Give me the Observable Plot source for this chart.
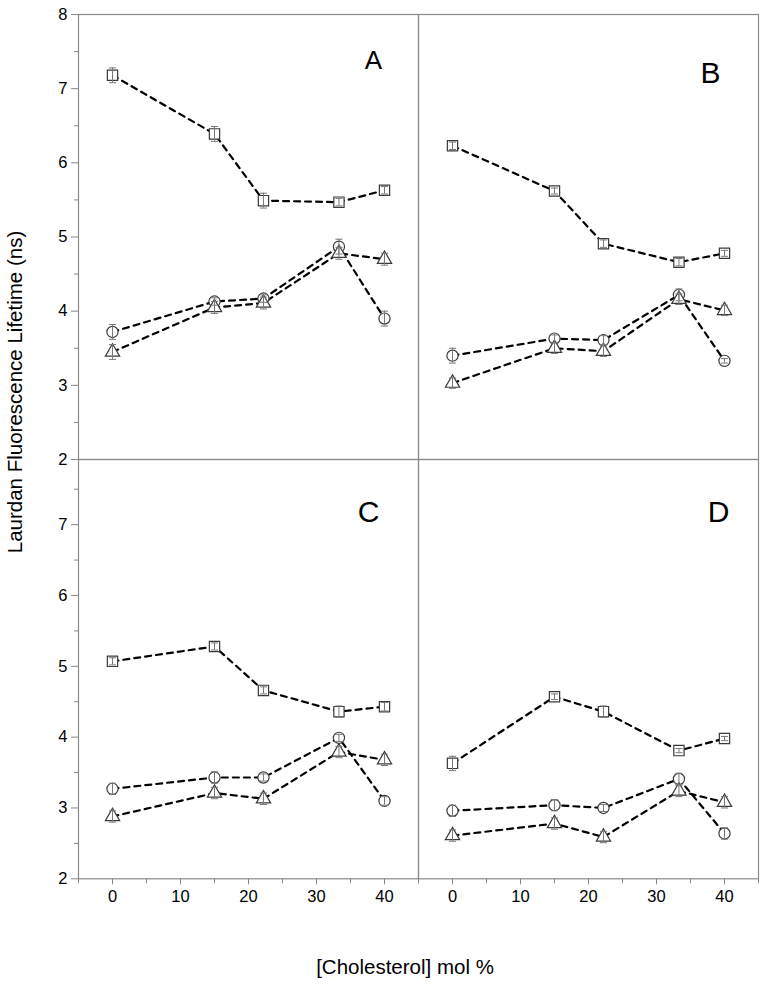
<!DOCTYPE html>
<html>
<head>
<meta charset="utf-8">
<script src="https://cdn.jsdelivr.net/npm/d3@7"></script>
<script src="https://cdn.jsdelivr.net/npm/@observablehq/plot@0.6"></script>
<style>
  html, body { margin: 0; padding: 0; background: white; }
  #wrap { position: relative; width: 764px; height: 1001px; font-family: "Liberation Sans", Arial, sans-serif; overflow: hidden; }
  #wrap svg { position: absolute; left: 0; background: transparent; }
  #ylabel { position: absolute; left: 15px; top: 392px; transform: translate(-50%, -50%) rotate(-90deg); font-size: 20.5px; white-space: nowrap; color: #000; }
  #xlabel { position: absolute; left: 405px; top: 967px; transform: translate(-50%, -50%); font-size: 20.5px; white-space: nowrap; color: #000; }
</style>
</head>
<body>
<div id="wrap">
  <div id="ylabel">Laurdan Fluorescence Lifetime (ns)</div>
  <div id="xlabel">[Cholesterol] mol %</div>
</div>
<script>
// ---------- data ----------
const cholesterol = [0, 15, 22.2, 33.3, 40];
const panelNames = ["A", "B", "C", "D"];
const seriesNames = ["square", "circle", "triangle"];

const squaresA   = [7.18, 6.39, 5.49, 5.47, 5.63];
const circlesA   = [3.72, 4.13, 4.17, 4.87, 3.90];
const trianglesA = [3.45, 4.05, 4.11, 4.78, 4.70];
const squaresB   = [6.23, 5.62, 4.91, 4.66, 4.78];
const circlesB   = [3.40, 3.63, 3.61, 4.22, 3.33];
const trianglesB = [3.03, 3.50, 3.46, 4.16, 4.01];
const squaresC   = [5.07, 5.28, 4.66, 4.36, 4.43];
const circlesC   = [3.27, 3.43, 3.43, 3.99, 3.10];
const trianglesC = [2.88, 3.21, 3.13, 3.79, 3.68];
const squaresD   = [3.63, 4.57, 4.36, 3.81, 3.98];
const circlesD   = [2.96, 3.04, 3.00, 3.41, 2.64];
const trianglesD = [2.61, 2.78, 2.59, 3.24, 3.08];

const errSquaresA   = [0.10, 0.10, 0.10, 0.05, 0.05];
const errCirclesA   = [0.10, 0.05, 0.05, 0.10, 0.10];
const errTrianglesA = [0.10, 0.08, 0.08, 0.08, 0.08];
const errSquaresB   = [0.05, 0.04, 0.05, 0.05, 0.04];
const errCirclesB   = [0.10, 0.05, 0.06, 0.08, 0.03];
const errTrianglesB = [0.07, 0.07, 0.07, 0.07, 0.07];
const errSquaresC   = [0.05, 0.05, 0.05, 0.08, 0.06];
const errCirclesC   = [0.08, 0.08, 0.05, 0.05, 0.06];
const errTrianglesC = [0.08, 0.08, 0.08, 0.08, 0.08];
const errSquaresD   = [0.10, 0.04, 0.08, 0.03, 0.03];
const errCirclesD   = [0.08, 0.08, 0.05, 0.08, 0.08];
const errTrianglesD = [0.08, 0.08, 0.08, 0.08, 0.08];

const yMajorTop = [2, 3, 4, 5, 6, 7, 8];
const yMinorTop = [2.5, 3.5, 4.5, 5.5, 6.5, 7.5];
const yMajorBottom = [2, 3, 4, 5, 6, 7];
const yMinorBottom = [2.5, 3.5, 4.5, 5.5, 6.5, 7.5];
const xMajor = [0, 10, 20, 30, 40];
const xMinor = [-5, 5, 15, 25, 35, 45];

// ---------- table ----------
const values = {
  A: [squaresA, circlesA, trianglesA], B: [squaresB, circlesB, trianglesB],
  C: [squaresC, circlesC, trianglesC], D: [squaresD, circlesD, trianglesD]
};
const errors = {
  A: [errSquaresA, errCirclesA, errTrianglesA], B: [errSquaresB, errCirclesB, errTrianglesB],
  C: [errSquaresC, errCirclesC, errTrianglesC], D: [errSquaresD, errCirclesD, errTrianglesD]
};
const rows = [];
for (const p of panelNames) {
  seriesNames.forEach((s, si) => {
    cholesterol.forEach((x, i) => {
      rows.push({panel: p, series: s, x, y: values[p][si][i], e: errors[p][si][i]});
    });
  });
}

const capSymbol = {
  draw(context, size) {
    const w = Math.sqrt(size);
    context.moveTo(-w, 0);
    context.lineTo(w, 0);
  }
};

const font = '"Liberation Sans", Arial, sans-serif';
const symbols = {square: d3.symbolSquare, circle: d3.symbolCircle, triangle: d3.symbolTriangle};
const radii = {square: 5.8, circle: 5.6, triangle: 5.3};

function dataMarks(data) {
  const marks = [
    Plot.line(data, {x: "x", y: "y", z: "series", fx: "panel", stroke: "black", strokeWidth: 2.2, strokeDasharray: "6,5"})
  ];
  for (const s of seriesNames) {
    marks.push(Plot.dot(data.filter(d => d.series === s), {
      x: "x", y: "y", fx: "panel", symbol: symbols[s], r: radii[s],
      fill: "white", stroke: "#3a3a3a", strokeWidth: 1.2
    }));
  }
  marks.push(
    Plot.ruleX(data, {x: "x", y1: d => d.y - d.e, y2: d => d.y + d.e, fx: "panel", stroke: "#777", strokeWidth: 1}),
    Plot.dot(data, {x: "x", y: d => d.y + d.e, fx: "panel", symbol: capSymbol, r: 2, stroke: "#777", fill: "none", strokeWidth: 1}),
    Plot.dot(data, {x: "x", y: d => d.y - d.e, fx: "panel", symbol: capSymbol, r: 2, stroke: "#777", fill: "none", strokeWidth: 1})
  );
  return marks;
}

function letter(name, dx, dy, size) {
  return Plot.text([name], {fx: [name], text: d => d, frameAnchor: "top-right", dx, dy,
    textAnchor: "middle", lineAnchor: "bottom", fontSize: size, fill: "black", fontFamily: font});
}

const W = 764, ML = 77, MR = 5.6;
const intFormat = d => String(d);
const blank = () => "";

const topRows = rows.filter(d => d.panel === "A" || d.panel === "B");
const bottomRows = rows.filter(d => d.panel === "C" || d.panel === "D");

const topPlot = Plot.plot({
  width: W, height: 462,
  marginLeft: ML, marginRight: MR, marginTop: 14, marginBottom: 3,
  style: {fontFamily: font, background: "transparent", overflow: "visible"},
  fx: {domain: ["A", "B"], padding: 0, axis: null},
  x: {domain: [-5, 45], axis: null},
  y: {domain: [2, 8]},
  marks: [
    Plot.frame({stroke: "#8a8a8a", strokeWidth: 1.2}),
    Plot.axisY({ticks: yMajorTop, tickFormat: intFormat, tickSize: 7, tickPadding: 4, fontSize: 16.5, stroke: "#888", fill: "black", label: null}),
    Plot.axisY({ticks: yMinorTop, tickSize: 4, tickFormat: blank, stroke: "#888", label: null}),
    ...dataMarks(topRows),
    letter("A", -45, 54, 26),
    letter("B", -48, 68, 30)
  ]
});

const bottomPlot = Plot.plot({
  width: W, height: 470,
  marginLeft: ML, marginRight: MR, marginTop: 4, marginBottom: 46.7,
  style: {fontFamily: font, background: "transparent", overflow: "visible"},
  fx: {domain: ["C", "D"], padding: 0, axis: null},
  x: {domain: [-5, 45]},
  y: {domain: [2, 7.92]},
  marks: [
    Plot.frame({stroke: "#8a8a8a", strokeWidth: 1.2}),
    Plot.axisY({ticks: yMajorBottom, tickFormat: intFormat, tickSize: 7, tickPadding: 4, fontSize: 16.5, stroke: "#888", fill: "black", label: null}),
    Plot.axisY({ticks: yMinorBottom, tickSize: 4, tickFormat: blank, stroke: "#888", label: null}),
    Plot.axisX({ticks: xMajor, tickFormat: intFormat, tickSize: 6, tickPadding: 5, fontSize: 16.5, stroke: "#888", fill: "black", label: null}),
    Plot.axisX({ticks: xMinor, tickSize: 5, tickFormat: blank, stroke: "#888", label: null}),
    ...dataMarks(bottomRows),
    letter("C", -50, 62, 30),
    letter("D", -40, 62, 30)
  ]
});

const wrap = document.getElementById("wrap");
topPlot.style.top = "0px";
bottomPlot.style.top = "455px";
wrap.appendChild(topPlot);
wrap.appendChild(bottomPlot);
</script>
</body>
</html>
